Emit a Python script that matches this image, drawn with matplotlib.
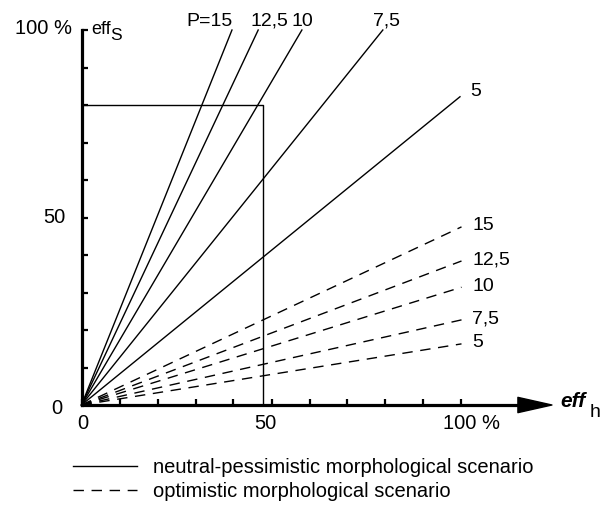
#!/usr/bin/env python3
"""Efficiency chart: eff_s vs eff_h lines for several P values, solid = neutral-pessimistic,
dashed = optimistic morphological scenario."""
import matplotlib
matplotlib.use("Agg")
import matplotlib.pyplot as plt

plt.rcParams["font.family"] = ["Liberation Sans", "DejaVu Sans"]

P_LABELS = ["15", "12,5", "10", "7,5", "5"]

# solid lines: origin -> end point (eff_h, eff_s) in %
SOLID_END_X = [39.6, 46.5, 58.0, 79.3, 99.6]
SOLID_END_Y = [100, 100, 100, 100, 82.2]

# dashed lines: origin -> end point
DASHED_END_X = [100, 100, 100, 100, 100]
DASHED_END_Y = [47.5, 38.4, 31.4, 22.7, 16.3]

# reference rectangle corner
RECT_X = 47.7
RECT_Y = 80

X_TICKS = list(range(0, 101, 10))
Y_TICKS = list(range(0, 101, 10))
X_TICK_LABELS = {0: "0", 50: "50", 100: "100 %"}
Y_TICK_LABELS = {0: "0", 50: "50", 100: "100 %"}

LEGEND_LABELS = ["neutral-pessimistic morphological scenario", "optimistic morphological scenario"]

W, H, DPI = 609, 507, 100
FS = 14.5

fig = plt.figure(figsize=(W / DPI, H / DPI), dpi=DPI)
x0_px, y0_px = 81.5, 405
px_per_x, px_per_y = 3.8, 3.75
XMAX = 124
ax = fig.add_axes([x0_px / W, (H - y0_px) / H, XMAX * px_per_x / W, 100 * px_per_y / H])
ax.set_xlim(0, XMAX)
ax.set_ylim(0, 100)

for sp in ("top", "right"):
    ax.spines[sp].set_visible(False)
ax.spines["left"].set_linewidth(2.3)
ax.spines["bottom"].set_linewidth(2.3)
ax.spines["left"].set_bounds(0, 100)
ax.spines["bottom"].set_bounds(0, 116)
ax.spines["left"].set_capstyle("projecting")

ax.set_xticks(X_TICKS)
ax.set_yticks(Y_TICKS)
ax.set_xticklabels([])
ax.set_yticklabels([])
ax.tick_params(direction="in", length=4.0, width=1.6, color="black")

# arrow head on x axis
ax.annotate("", xy=(123.8, 0), xytext=(114, 0),
            arrowprops=dict(facecolor="black", edgecolor="black", width=0.1,
                            headwidth=11, headlength=24.5, shrink=0),
            annotation_clip=False)

# tick labels
x_offsets = {0: (1.5, "center"), 50: (-6, "center"), 100: (-18, "left")}
for v, lab in X_TICK_LABELS.items():
    dx, ha = x_offsets[v]
    ax.annotate(lab, xy=(v, 0), xytext=(dx, -9), textcoords="offset pixels",
                ha=ha, va="top", fontsize=FS, annotation_clip=False)
y_offsets = {0: (-19.5, -3), 50: (-16.5, 0), 100: (-9.5, 1.5)}
for v, lab in Y_TICK_LABELS.items():
    dx, dy = y_offsets[v]
    ax.annotate(lab, xy=(0, v), xytext=(dx, dy), textcoords="offset pixels",
                ha="right", va="center", fontsize=FS, annotation_clip=False)

# axis names
ax.annotate("eff", xy=(0, 100), xytext=(9.5, -3.5), textcoords="offset pixels",
            ha="left", va="baseline", fontsize=13, annotation_clip=False)
ax.annotate("S", xy=(0, 100), xytext=(29, -10.5), textcoords="offset pixels",
            ha="left", va="baseline", fontsize=12.5, annotation_clip=False)
ax.annotate("eff", xy=(123.8, 0), xytext=(8, -2), textcoords="offset pixels",
            ha="left", va="baseline", fontsize=15, fontweight="bold", fontstyle="italic",
            annotation_clip=False)
ax.annotate("h", xy=(123.8, 0), xytext=(38, -12), textcoords="offset pixels",
            ha="left", va="baseline", fontsize=14, annotation_clip=False)

# rectangle
ax.plot([0, RECT_X, RECT_X], [RECT_Y, RECT_Y, 0], color="black", lw=1.0, clip_on=False)

# solid lines
solid_handles = []
for i, (ex, ey) in enumerate(zip(SOLID_END_X, SOLID_END_Y)):
    (ln,) = ax.plot([0, ex], [0, ey], color="black", lw=1.0, clip_on=False,
                    label=LEGEND_LABELS[0] if i == 0 else None)
    solid_handles.append(ln)

# dashed lines
dashed_handles = []
for i, (ex, ey) in enumerate(zip(DASHED_END_X, DASHED_END_Y)):
    (ln,) = ax.plot([0, ex], [0, ey], color="black", lw=1.0, ls=(0, (7.5, 5.5)), clip_on=False,
                    label=LEGEND_LABELS[1] if i == 0 else None)
    dashed_handles.append(ln)

# labels for solid lines
top_offsets = [(-22, 4), (11, 4), (0, 4), (4, 4), (16, 5)]
for i, lab in enumerate(P_LABELS):
    text = "P=" + lab if i == 0 else lab
    dx, dy = top_offsets[i]
    va = "baseline" if SOLID_END_Y[i] >= 100 else "center"
    ax.annotate(text, xy=(SOLID_END_X[i], SOLID_END_Y[i]), xytext=(dx, dy),
                textcoords="offset pixels", ha="center", va=va, fontsize=14,
                annotation_clip=False)

# labels for dashed lines
for i, lab in enumerate(P_LABELS):
    ax.annotate(lab, xy=(DASHED_END_X[i], DASHED_END_Y[i]), xytext=(11, 1),
                textcoords="offset pixels", ha="left", va="center", fontsize=14,
                annotation_clip=False)

fig.legend(handles=[solid_handles[0], dashed_handles[0]], loc="upper left",
           bbox_to_anchor=(73 / W, 1 - 458 / H), frameon=False, fontsize=FS,
           handlelength=3.2, handletextpad=0.75, labelspacing=0.25,
           borderpad=0, borderaxespad=0)

fig.savefig("out.png", dpi=DPI)
